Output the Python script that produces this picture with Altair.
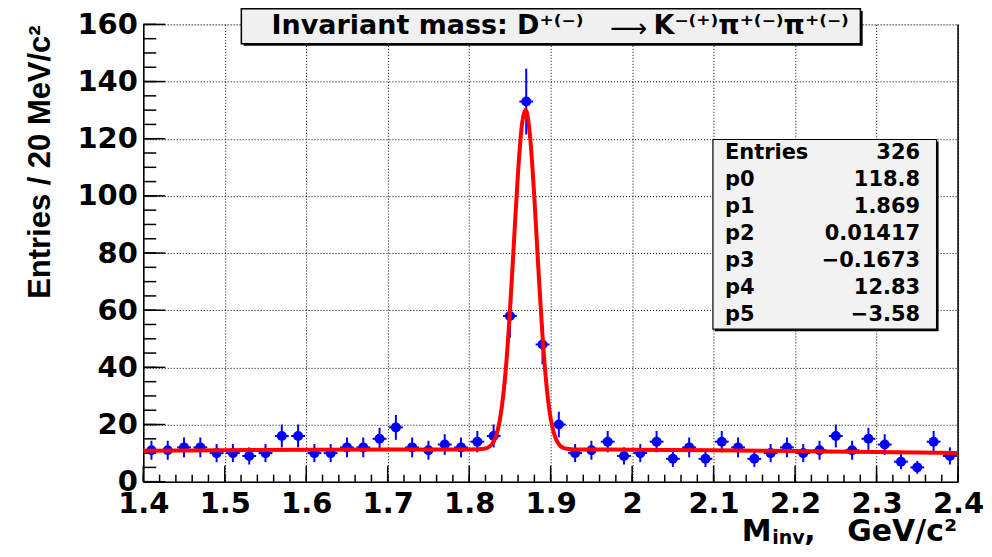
import altair as alt
import pandas as pd

# ---------------- data ----------------
bin_centers = [round(1.41 + 0.02 * i, 2) for i in range(50)]
counts = [11, 11, 12, 12, 10, 10, 9, 10, 16, 16, 10, 10,
          12, 12, 15, 19, 12, 11, 13, 12, 14, 16,
          58, 133, 48, 20,
          10, 11, 14, 9, 10, 14, 8, 12, 8, 14, 12, 8,
          10, 12, 10, 11, 16, 11, 15, 13, 7, 5, 14, 9]

fit_x = [1.40, 1.50, 1.60, 1.70, 1.80, 1.81, 1.82, 1.825, 1.83, 1.835, 1.84,
         1.845, 1.85, 1.855, 1.86, 1.865, 1.869, 1.87, 1.875, 1.88, 1.885,
         1.89, 1.895, 1.90, 1.905, 1.91, 1.915, 1.92, 1.93, 2.00, 2.10,
         2.20, 2.30, 2.40]
fit_y = [10.8, 11.0, 11.2, 11.3, 11.3, 11.35, 11.6, 12.3, 14.0, 18.0, 26.0,
         39.6, 59.6, 84.2, 108.4, 125.5, 130.1, 129.8, 119.9, 99.2, 74.1,
         50.9, 33.4, 22.1, 16.0, 13.1, 11.9, 11.5, 11.3, 11.2, 11.0,
         10.7, 10.4, 10.0]

x_major = [1.4, 1.5, 1.6, 1.7, 1.8, 1.9, 2.0, 2.1, 2.2, 2.3, 2.4]
x_minor = [round(1.4 + 0.02 * i, 2) for i in range(51)]
y_major = [0, 20, 40, 60, 80, 100, 120, 140, 160]
y_minor = [5 * i for i in range(33)]

title_left = "Invariant mass: D⁺⁽⁻⁾"
title_arrow = "⟶"
title_right = "K⁻⁽⁺⁾π⁺⁽⁻⁾π⁺⁽⁻⁾"
stat_names = ["Entries", "p0", "p1", "p2", "p3", "p4", "p5"]
stat_values = ["326", "118.8", "1.869", "0.01417", "\u22120.1673", "12.83", "\u22123.58"]
y_title = "Entries / 20 MeV/c²"

# ---------------- layout ----------------
W, H = 816, 458
FONT = "DejaVu Sans"

x_scale = alt.Scale(domain=[1.4, 2.4], nice=False, zero=False)
y_scale = alt.Scale(domain=[0, 160], nice=False, zero=False)

x_axis = alt.Axis(values=x_major, labelExpr="format(datum.value, '.2~f')",
                  grid=True, gridDash=[1, 2], gridColor="black", gridWidth=1,
                  gridOpacity=1, ticks=False, domain=True, domainColor="black",
                  domainWidth=1.5, labelFont=FONT, labelFontWeight="bold",
                  labelFontSize=29, labelColor="black", labelPadding=8,
                  labelFlush=False, labelOverlap=False, title=None)
y_axis = alt.Axis(values=y_major, grid=True, gridDash=[1, 2], gridColor="black",
                  gridWidth=1, gridOpacity=1, ticks=False, domain=True,
                  domainColor="black", domainWidth=1.5, labelFont=FONT,
                  labelFontWeight="bold", labelFontSize=29, labelColor="black",
                  labelPadding=6, labelFlush=False, labelOverlap=False, title=None)


def X(f):
    return alt.X(f, type="quantitative", scale=x_scale, axis=x_axis)


def Y(f):
    return alt.Y(f, type="quantitative", scale=y_scale, axis=y_axis)


pts = pd.DataFrame({"m": bin_centers, "n": counts})
base = alt.Chart(pts).transform_calculate(
    lo="datum.n - sqrt(datum.n)", hi="datum.n + sqrt(datum.n)",
    xl="datum.m - 0.0085", xr="datum.m + 0.0085")

verr = base.mark_rule(color="#0000ff", strokeWidth=2).encode(x=X("m"), y=Y("lo"), y2="hi:Q")
herr = base.mark_rule(color="#0000ff", strokeWidth=2).encode(x=X("xl"), x2="xr:Q", y=Y("n"))
dots = base.mark_circle(size=100, color="#0000ff", opacity=1).encode(x=X("m"), y=Y("n"))

fit = alt.Chart(pd.DataFrame({"fx": fit_x, "fy": fit_y})).mark_line(
    color="#ff0000", strokeWidth=4, interpolate="monotone").encode(x=X("fx"), y=Y("fy"))

# inward ticks
xmin_t = alt.Chart(pd.DataFrame({"t": x_minor})).mark_rule(color="black", strokeWidth=1.5).encode(
    x=X("t"), y=alt.value(H), y2=alt.value(H - 7))
xmaj_t = alt.Chart(pd.DataFrame({"t": x_major})).mark_rule(color="black", strokeWidth=1.5).encode(
    x=X("t"), y=alt.value(H), y2=alt.value(H - 16))
ymin_t = alt.Chart(pd.DataFrame({"t": y_minor})).mark_rule(color="black", strokeWidth=1.5).encode(
    y=Y("t"), x=alt.value(0), x2=alt.value(13))
ymaj_t = alt.Chart(pd.DataFrame({"t": y_major})).mark_rule(color="black", strokeWidth=1.5).encode(
    y=Y("t"), x=alt.value(0), x2=alt.value(22))

one = pd.DataFrame({"a": [0]})
right_frame = alt.Chart(one).mark_rule(color="black", strokeWidth=1.5).encode(
    x=alt.value(W), y=alt.value(0), y2=alt.value(H))

# title box
tb_shadow = alt.Chart(one).mark_rect(color="black").encode(
    x=alt.value(100.5), x2=alt.value(720.5), y=alt.value(-13.5), y2=alt.value(21.5))
tb_box = alt.Chart(one).mark_rect(fill="#f0f0f0", stroke="black", strokeWidth=1.5).encode(
    x=alt.value(98.2), x2=alt.value(718.2), y=alt.value(-15.7), y2=alt.value(19.3))
tb_t1 = alt.Chart(pd.DataFrame({"t": [title_left]})).mark_text(
    font=FONT, fontWeight="bold", fontSize=27, align="left", baseline="middle",
    color="black").encode(x=alt.value(128.5), y=alt.value(2), text="t:N")
tb_t2 = alt.Chart(pd.DataFrame({"t": [title_arrow]})).mark_text(
    font="DejaVu Sans", fontWeight="normal", fontSize=26, align="center", baseline="middle",
    color="black").encode(x=alt.value(486), y=alt.value(5), text="t:N")
tb_t3 = alt.Chart(pd.DataFrame({"t": [title_right]})).mark_text(
    font=FONT, fontWeight="bold", fontSize=27, align="left", baseline="middle",
    color="black").encode(x=alt.value(511), y=alt.value(2), text="t:N")

# stats box
sb_shadow = alt.Chart(one).mark_rect(color="black").encode(
    x=alt.value(572.5), x2=alt.value(796.5), y=alt.value(117.3), y2=alt.value(307.3))
sb_box = alt.Chart(one).mark_rect(fill="#f2f2f2", stroke="black", strokeWidth=1.2).encode(
    x=alt.value(570.5), x2=alt.value(794.5), y=alt.value(115.3), y2=alt.value(305.3))
stats = pd.DataFrame({"name": stat_names, "val": stat_values, "row": list(range(7))})
sb_names = alt.Chart(stats).transform_calculate(py="128.6 + 27.1 * datum.row").mark_text(
    font=FONT, fontWeight="bold", fontSize=21, align="left", baseline="middle",
    color="black").encode(x=alt.value(582.5), y=alt.Y("py:Q", scale=None), text="name:N")
sb_vals = alt.Chart(stats).transform_calculate(py="128.6 + 27.1 * datum.row").mark_text(
    font=FONT, fontWeight="bold", fontSize=21, align="right", baseline="middle",
    color="black").encode(x=alt.value(778), y=alt.Y("py:Q", scale=None), text="val:N")

# axis titles
xt_m = alt.Chart(pd.DataFrame({"t": ["M"]})).mark_text(
    font=FONT, fontWeight="bold", fontSize=30, align="left", baseline="alphabetic",
    color="black").encode(x=alt.value(599.5), y=alt.value(517), text="t:N")
xt_inv = alt.Chart(pd.DataFrame({"t": ["inv"]})).mark_text(
    font=FONT, fontWeight="bold", fontSize=19, align="left", baseline="alphabetic",
    color="black").encode(x=alt.value(630), y=alt.value(520), text="t:N")
xt_comma = alt.Chart(pd.DataFrame({"t": [","]})).mark_text(
    font=FONT, fontWeight="bold", fontSize=30, align="left", baseline="alphabetic",
    color="black").encode(x=alt.value(662), y=alt.value(517), text="t:N")
xt_rest = alt.Chart(pd.DataFrame({"t": ["GeV/c²"]})).mark_text(
    font=FONT, fontWeight="bold", fontSize=30, align="right", baseline="alphabetic",
    color="black").encode(x=alt.value(815), y=alt.value(517), text="t:N")
yt = alt.Chart(pd.DataFrame({"t": [y_title]})).mark_text(
    font="Liberation Sans", fontWeight="bold", fontSize=31, align="right",
    baseline="alphabetic", angle=270, color="black").encode(
    x=alt.value(-93.5), y=alt.value(1), text="t:N")

chart = alt.layer(
    xmin_t, xmaj_t, ymin_t, ymaj_t, right_frame,
    verr, herr, dots, fit,
    tb_shadow, tb_box, tb_t1, tb_t2, tb_t3,
    sb_shadow, sb_box, sb_names, sb_vals,
    xt_m, xt_inv, xt_comma, xt_rest, yt,
).properties(
    width=W, height=H,
    autosize=alt.AutoSizeParams(type="none"),
    padding={"left": 135.5, "top": 16, "right": 26, "bottom": 66},
).configure_view(stroke=None).configure(background="white")

chart.save("out.html", embed_options={"renderer": "svg", "actions": False})
